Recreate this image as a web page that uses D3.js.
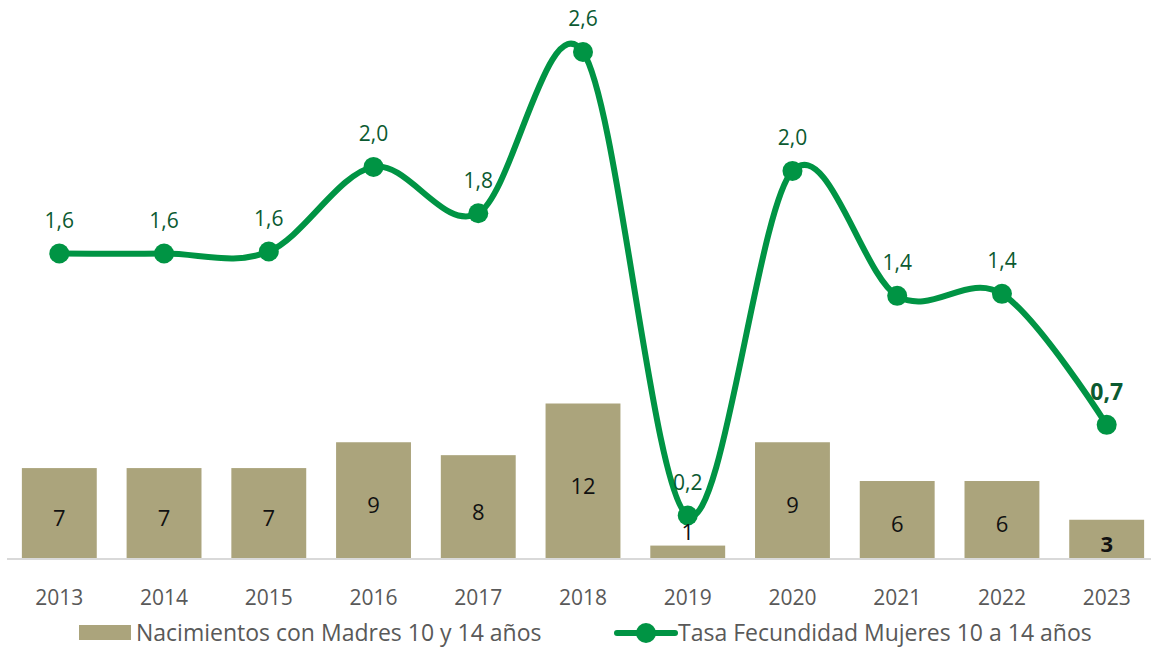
<!DOCTYPE html>
<html>
<head>
<meta charset="utf-8">
<script src="https://cdn.jsdelivr.net/npm/d3@7"></script>
<style>
  body { margin: 0; background: #fff; }
  text { font-family: "Open Sans", Lato, sans-serif; }
</style>
</head>
<body>
<div id="chart"></div>
<script>
// data
const years = ["2013", "2014", "2015", "2016", "2017", "2018", "2019", "2020", "2021", "2022", "2023"];
const births = [7, 7, 7, 9, 8, 12, 1, 9, 6, 6, 3];
const rate = [1.6, 1.6, 1.61, 2.03, 1.8, 2.6, 0.3, 2.01, 1.39, 1.4, 0.75];
const rateLabels = ["1,6", "1,6", "1,6", "2,0", "1,8", "2,6", "0,2", "2,0", "1,4", "1,4", "0,7"];
const barLegend = "Nacimientos con Madres 10 y 14 años";
const lineLegend = "Tasa Fecundidad Mujeres 10 a 14 años";

const width = 1151, height = 648;
const barColor = "#aba47c";
const lineColor = "#009444";
const labelGreen = "#0b5a31";

const svg = d3.select("#chart").append("svg")
    .attr("width", width)
    .attr("height", height);

// scales
const x = d3.scaleBand()
    .domain(years)
    .range([7, 1159])
    .paddingInner(0.285)
    .paddingOuter(0.142);

const yBar = d3.scaleLinear()
    .domain([0, 12])
    .range([558.5, 403.5]);

const yLine = d3.scaleLinear()
    .domain([0, 2.6])
    .range([576, 52]);

// bars
svg.append("g")
  .selectAll("rect")
  .data(births)
  .join("rect")
    .attr("x", (d, i) => x(years[i]))
    .attr("y", d => yBar(d))
    .attr("width", x.bandwidth())
    .attr("height", d => yBar(0) - yBar(d))
    .attr("fill", barColor);

// x axis
const xAxis = svg.append("g")
    .attr("transform", `translate(0, ${yBar(0)})`)
    .call(d3.axisBottom(x).tickSize(0).tickPadding(32));
xAxis.select(".domain")
    .attr("d", `M7,0.5H${width}`)
    .attr("stroke", "#d9d9d9")
    .attr("stroke-width", 2);
xAxis.selectAll("text")
    .attr("font-size", 21)
    .attr("fill", "#595959");

// smoothed line
const line = d3.line()
    .x((d, i) => x(years[i]) + x.bandwidth() / 2)
    .y(d => yLine(d))
    .curve(d3.curveCatmullRom.alpha(0));

svg.append("path")
    .datum(rate)
    .attr("d", line)
    .attr("fill", "none")
    .attr("stroke", lineColor)
    .attr("stroke-width", 6)
    .attr("stroke-linejoin", "round");

svg.append("g")
  .selectAll("circle")
  .data(rate)
  .join("circle")
    .attr("cx", (d, i) => x(years[i]) + x.bandwidth() / 2)
    .attr("cy", d => yLine(d))
    .attr("r", 10)
    .attr("fill", lineColor);

// bar labels: centred, or just above when the bar is too short
svg.append("g")
  .selectAll("text")
  .data(births)
  .join("text")
    .attr("x", (d, i) => x(years[i]) + x.bandwidth() / 2)
    .attr("y", d => (yBar(0) - yBar(d)) < 30 ? yBar(d) - 13 : (yBar(d) + yBar(0)) / 2 + 5)
    .attr("dy", "0.35em")
    .attr("text-anchor", "middle")
    .attr("font-size", 22)
    .attr("font-weight", (d, i) => i === years.length - 1 ? "bold" : "normal")
    .attr("fill", "#111")
    .text(d => d);

// line labels
svg.append("g")
  .selectAll("text")
  .data(rate)
  .join("text")
    .attr("x", (d, i) => x(years[i]) + x.bandwidth() / 2)
    .attr("y", d => yLine(d) - 33)
    .attr("dy", "0.35em")
    .attr("text-anchor", "middle")
    .attr("font-size", (d, i) => i === years.length - 1 ? 23 : 21)
    .attr("font-weight", (d, i) => i === years.length - 1 ? "bold" : "normal")
    .attr("fill", labelGreen)
    .text((d, i) => rateLabels[i]);

// legend
const legendY = 633;
const legend = svg.append("g");
legend.append("rect")
    .attr("x", 79).attr("y", legendY - 8)
    .attr("width", 52).attr("height", 15)
    .attr("fill", barColor);
legend.append("text")
    .attr("x", 136).attr("y", legendY)
    .attr("dy", "0.35em")
    .attr("font-size", 23)
    .attr("fill", "#595959")
    .text(barLegend);

legend.append("line")
    .attr("x1", 617).attr("x2", 675)
    .attr("y1", legendY).attr("y2", legendY)
    .attr("stroke", lineColor)
    .attr("stroke-width", 6)
    .attr("stroke-linecap", "round");
legend.append("circle")
    .attr("cx", 646).attr("cy", legendY)
    .attr("r", 10)
    .attr("fill", lineColor);
legend.append("text")
    .attr("x", 678).attr("y", legendY)
    .attr("dy", "0.35em")
    .attr("font-size", 23)
    .attr("fill", "#595959")
    .text(lineLegend);
</script>
</body>
</html>
